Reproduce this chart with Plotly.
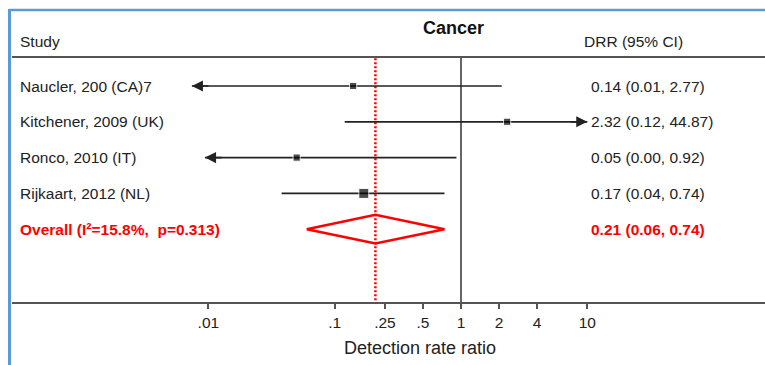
import numpy as np
import plotly.graph_objects as go

# ---------------- data ----------------
studies = ["Naucler, 200 (CA)7", "Kitchener, 2009 (UK)", "Ronco, 2010 (IT)", "Rijkaart, 2012 (NL)"]
drr = [0.14, 2.32, 0.05, 0.17]
ci_lo = [0.01, 0.12, 0.00, 0.04]
ci_hi = [2.77, 44.87, 0.92, 0.74]
# extents of the CI lines as drawn in the picture (arrows mark truncation)
drawn_lo = [0.0074, 0.12, 0.0094, 0.038]
drawn_hi = [2.1, 10.0, 0.92, 0.74]
arrow_lo = [True, False, True, False]
arrow_hi = [False, True, False, False]
weights = [17, 17, 17, 33]

overall_label = "Overall (I²=15.8%,\u00a0 p=0.313)"
overall_est = 0.21
overall_lo = 0.06
overall_hi = 0.74

tick_vals = [0.01, 0.1, 0.25, 0.5, 1, 2, 4, 10]
tick_text = [".01", ".1", ".25", ".5", "1", "2", "4", "10"]

title = "Cancer"
col_left = "Study"
col_right = "DRR (95% CI)"
x_title = "Detection rate ratio"

# ---------------- layout geometry ----------------
W, H = 765, 365
L, R, T, B = 12, 765, 58, 302
FONT = "Liberation Sans, Arial, sans-serif"
BLACK = "#222222"
RED = "#ff0000"


def px(xp):
    return (xp - L) / (R - L)


def py(yp):
    return (B - yp) / (B - T)


rows = list(range(1, len(studies) + 1))
overall_row = len(studies) + 1

fig = go.Figure()

# reference line at 1
fig.add_trace(go.Scatter(x=[1, 1], y=[0, 8], mode="lines",
                         line=dict(color="#333333", width=1.5), hoverinfo="skip"))
# overall estimate dotted line
fig.add_trace(go.Scatter(x=[overall_est, overall_est], y=[0, 8], mode="lines",
                         line=dict(color=RED, width=2.5, dash="2px,2px"), hoverinfo="skip"))

# CI lines
for i, r in enumerate(rows):
    fig.add_trace(go.Scatter(x=[drawn_lo[i], drawn_hi[i]], y=[r, r], mode="lines",
                             line=dict(color="#222222", width=1.7), hoverinfo="skip"))
    if arrow_lo[i]:
        fig.add_annotation(x=np.log10(drawn_lo[i]), y=r, xref="x", yref="y", ax=18, ay=0,
                           showarrow=True, arrowhead=2, arrowsize=1.3, arrowwidth=1.7,
                           arrowcolor="#222222", text="")
    if arrow_hi[i]:
        fig.add_annotation(x=np.log10(drawn_hi[i]), y=r, xref="x", yref="y", ax=-18, ay=0,
                           showarrow=True, arrowhead=2, arrowsize=1.3, arrowwidth=1.7,
                           arrowcolor="#222222", text="")

# point estimates
sizes = [5.5 * np.sqrt(w / 10) for w in weights]
fig.add_trace(go.Scatter(x=drr, y=rows, mode="markers",
                         marker=dict(symbol="square", size=sizes, color="#000000"),
                         hoverinfo="skip"))

# overall diamond
hh = 0.4
fig.add_trace(go.Scatter(
    x=[overall_lo, overall_est, overall_hi, overall_est, overall_lo],
    y=[overall_row, overall_row - hh, overall_row, overall_row + hh, overall_row],
    mode="lines", line=dict(color=RED, width=2.5), hoverinfo="skip"))

# row labels
for i, r in enumerate(rows):
    fig.add_annotation(x=px(18), y=r, xref="paper", yref="y", text=studies[i],
                       showarrow=False, xanchor="left", yanchor="middle",
                       font=dict(family=FONT, size=15.5, color=BLACK))
    fig.add_annotation(x=px(589), y=r, xref="paper", yref="y",
                       text=f"{drr[i]:.2f} ({ci_lo[i]:.2f}, {ci_hi[i]:.2f})",
                       showarrow=False, xanchor="left", yanchor="middle",
                       font=dict(family=FONT, size=15.5, color=BLACK))
fig.add_annotation(x=px(18), y=overall_row, xref="paper", yref="y", text=f"<b>{overall_label}</b>",
                   showarrow=False, xanchor="left", yanchor="middle",
                   font=dict(family=FONT, size=15.5, color=RED))
fig.add_annotation(x=px(589), y=overall_row, xref="paper", yref="y",
                   text=f"<b>{overall_est:.2f} ({overall_lo:.2f}, {overall_hi:.2f})</b>",
                   showarrow=False, xanchor="left", yanchor="middle",
                   font=dict(family=FONT, size=15.5, color=RED))

# headers
fig.add_annotation(x=px(18), y=py(42), xref="paper", yref="paper", text=col_left,
                   showarrow=False, xanchor="left", yanchor="middle",
                   font=dict(family=FONT, size=15.5, color=BLACK))
fig.add_annotation(x=px(582), y=py(42), xref="paper", yref="paper", text=col_right,
                   showarrow=False, xanchor="left", yanchor="middle",
                   font=dict(family=FONT, size=15.5, color=BLACK))
fig.add_annotation(x=px(453), y=py(28), xref="paper", yref="paper", text=f"<b>{title}</b>",
                   showarrow=False, xanchor="center", yanchor="middle",
                   font=dict(family=FONT, size=18, color="#111111"))
fig.add_annotation(x=px(420), y=py(348), xref="paper", yref="paper", text=x_title,
                   showarrow=False, xanchor="center", yanchor="middle",
                   font=dict(family=FONT, size=18, color=BLACK))

# blue frame
BLUE = "#5b9bd5"
fig.add_shape(type="line", xref="paper", yref="paper", x0=px(9.5), x1=px(765), y0=py(10), y1=py(10),
              line=dict(color=BLUE, width=2.5))
fig.add_shape(type="line", xref="paper", yref="paper", x0=px(9.5), x1=px(9.5), y0=py(9), y1=py(366),
              line=dict(color=BLUE, width=3))

# x range so that 1 sits at pixel 461 and one decade spans 126.3 px
dec = 126.3
xr = [(L - 461) / dec, (R - 461) / dec]

fig.update_layout(
    width=W, height=H,
    margin=dict(l=L, r=W - R, t=T, b=H - B),
    paper_bgcolor="white", plot_bgcolor="white",
    showlegend=False,
    xaxis=dict(type="log", range=xr, tickvals=tick_vals, ticktext=tick_text,
               showgrid=False, zeroline=False, showline=True, mirror=True,
               linecolor="#555555", linewidth=2, ticks="outside", ticklen=5,
               tickcolor="#555555", tickwidth=1.5,
               tickfont=dict(family=FONT, size=15.5, color=BLACK), fixedrange=True),
    yaxis=dict(range=[(B - 50.2) / 35.8, (T - 50.2) / 35.8], visible=False,
               showgrid=False, zeroline=False, fixedrange=True),
)

fig.write_html("out.html")
